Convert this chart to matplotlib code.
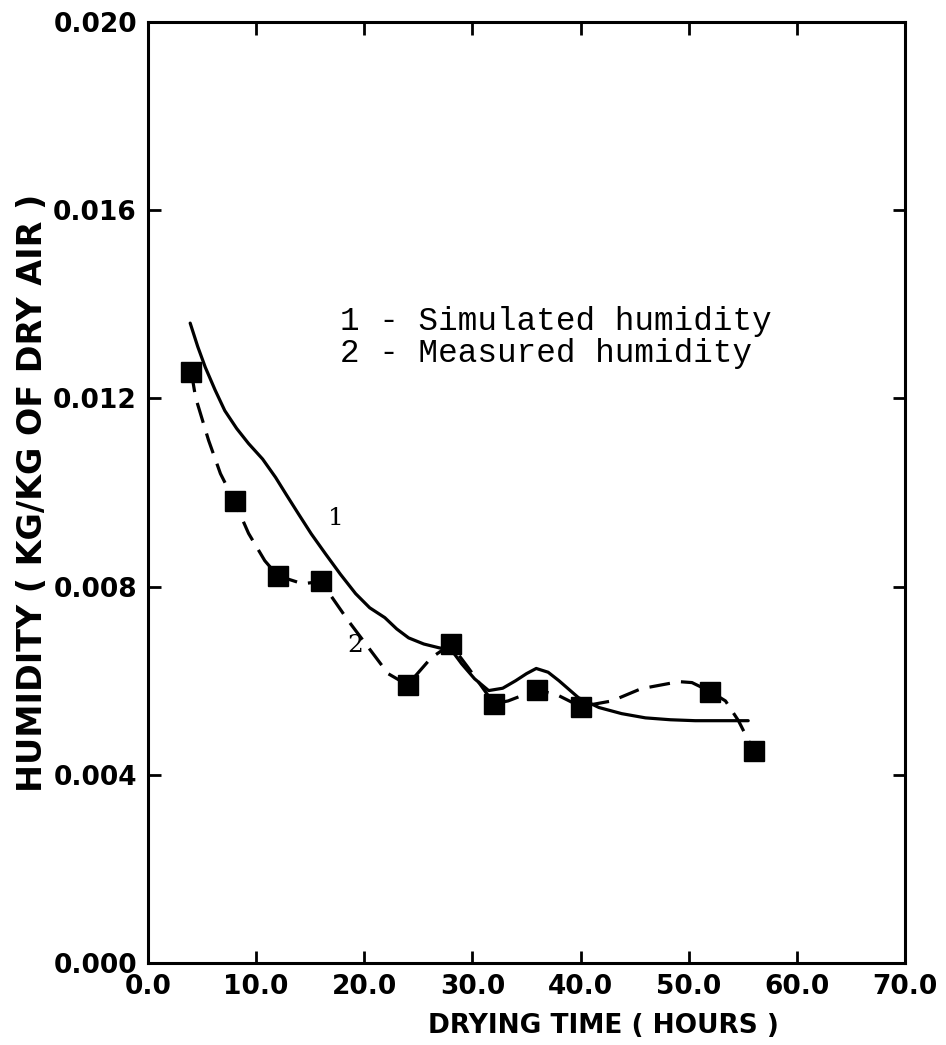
import matplotlib
matplotlib.use("Agg")
import matplotlib.pyplot as plt

# measured humidity (squares)
meas_hours = [4, 8, 12, 16, 24, 28, 32, 36, 40, 52, 56]
meas_humidity = [0.01257, 0.00981, 0.00823, 0.00811, 0.00591, 0.00677,
                 0.00551, 0.00581, 0.00545, 0.00577, 0.00451]

# dashed curve through the measured points
meas_curve_hours = [4.0, 4.4, 5.6, 6.7, 8.0, 9.3, 10.8, 12.0, 14.3, 16.0,
                    16.9, 18.5, 20.4, 22.2, 24.0, 26.2, 28.0, 29.6, 32.0,
                    33.3, 36.0, 38.0, 40.0, 42.9, 45.6, 49.1, 50.3, 52.0,
                    53.4, 54.6, 56.0]
meas_curve_humidity = [0.01257, 0.01202, 0.01111, 0.01040, 0.00981, 0.00913,
                       0.00855, 0.00823, 0.00806, 0.00811, 0.00781, 0.00728,
                       0.00670, 0.00615, 0.00591, 0.00649, 0.00677, 0.00628,
                       0.00551, 0.00557, 0.00581, 0.00568, 0.00545, 0.00557,
                       0.00583, 0.00598, 0.00596, 0.00577, 0.00557, 0.00515,
                       0.00451]

# simulated humidity (solid line)
sim_hours = [3.9, 4.6, 5.3, 6.2, 7.1, 8.2, 9.3, 10.6, 11.8, 12.8, 13.9, 15.1,
             16.4, 17.8, 19.2, 20.5, 21.9, 23.0, 24.1, 25.5, 26.9, 28.1,
             29.0, 30.2, 31.5, 32.8, 34.0, 35.0, 35.9, 37.0, 38.0, 39.8,
             41.7, 43.8, 46.0, 48.3, 50.6, 53.0, 55.5]
sim_humidity = [0.01360, 0.01310, 0.01266, 0.01218, 0.01174, 0.01136,
                0.01104, 0.01071, 0.01032, 0.00995, 0.00955, 0.00912,
                0.00870, 0.00826, 0.00785, 0.00755, 0.00734, 0.00710,
                0.00691, 0.00678, 0.00670, 0.00664, 0.00636, 0.00604,
                0.00579, 0.00584, 0.00600, 0.00615, 0.00626, 0.00618,
                0.00600, 0.00564, 0.00543, 0.00530, 0.00521, 0.00517,
                0.00515, 0.00515, 0.00515]

x_ticks = [0, 10, 20, 30, 40, 50, 60, 70]
y_ticks = [0.000, 0.004, 0.008, 0.012, 0.016, 0.020]

fig = plt.figure(figsize=(9.46, 10.45), dpi=100)
ax = fig.add_axes([148 / 946, 82 / 1045, 757 / 946, 941 / 1045])

ax.plot(sim_hours, sim_humidity, color='black', lw=2.3, solid_capstyle='round',
        solid_joinstyle='round')
ax.plot(meas_curve_hours, meas_curve_humidity, color='black', lw=2.3,
        dashes=(6.5, 3.5))
ax.plot(meas_hours, meas_humidity, 's', color='black', ms=15)

ax.set_xlim(0, 70)
ax.set_ylim(0, 0.020)
ax.set_xticks(x_ticks)
ax.set_yticks(y_ticks)
ax.set_xticklabels(['%.1f' % v for v in x_ticks])
ax.set_yticklabels(['%.3f' % v for v in y_ticks])

for s in ax.spines.values():
    s.set_linewidth(2.2)
ax.tick_params(direction='in', length=9, width=2, top=True, right=True,
               labelsize=19, pad=8)
for lab in ax.get_xticklabels() + ax.get_yticklabels():
    lab.set_fontweight('bold')

ax.set_xlabel('DRYING TIME ( HOURS )', fontsize=19, fontweight='bold')
ax.xaxis.set_label_coords(0.602, -0.053)
ax.set_ylabel('HUMIDITY ( KG/KG OF DRY AIR )', fontsize=24, fontweight='bold',
              labelpad=3)

ax.text(17.8, 0.0133, '1 - Simulated humidity\n2 - Measured humidity',
        family='Liberation Mono', fontsize=23.5, va='center', ha='left',
        linespacing=1.05)
ax.text(16.6, 0.0093, '1', family='DejaVu Serif', fontsize=18)
ax.text(18.4, 0.0066, '2', family='DejaVu Serif', fontsize=18)

plt.savefig('out.png', dpi=100)
